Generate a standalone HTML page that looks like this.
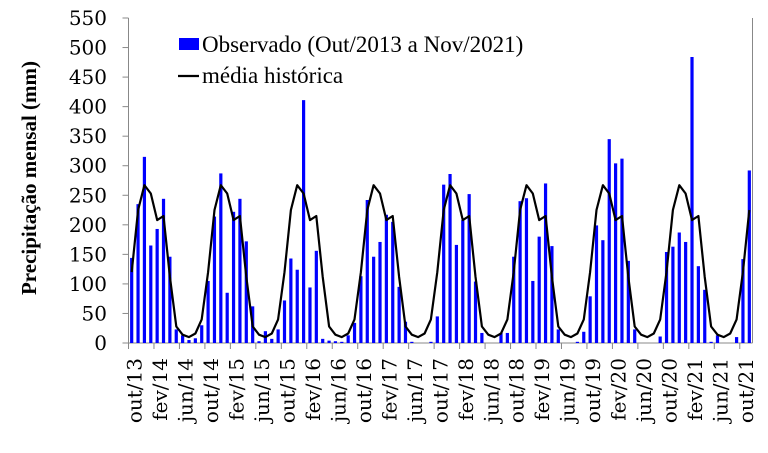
<!DOCTYPE html>
<html><head><meta charset="utf-8"><style>
html,body{margin:0;padding:0;background:#fff;}
svg{display:block;font-family:"Liberation Serif",serif;}
</style></head><body>
<svg id="chart" width="768" height="453" xmlns="http://www.w3.org/2000/svg"></svg>
<script>
const startLabels = ["out","nov","dez","jan","fev","mar","abr","mai","jun","jul","ago","set"];
const observed = [
144,235,315,165,193,244,146,23,13,5,8,30,
105,214,287,85,222,244,172,62,3,20,7,23,
72,143,124,411,94,156,7,4,3,2,13,34,
113,242,146,171,217,205,95,36,2,0,0,2,
45,268,286,166,208,252,104,17,0,0,17,17,
146,240,245,105,180,270,164,23,0,0,2,19,
79,199,174,345,304,312,139,23,0,0,0,11,
154,163,187,171,484,130,90,2,13,0,0,10,
142,292];
const meanHist = [120,225,267,253,208,215,112,28,14,10,16,40];
const yTicks = [0,50,100,150,200,250,300,350,400,450,500,550];
const yearLabels = ["13","14","15","16","17","18","19","20","21"];

const NS="http://www.w3.org/2000/svg";
const svg=document.getElementById('chart');
const L=128.5,R=752.5,T=18,B=343,yMax=550;
const n=observed.length, cw=(R-L)/n;
const xc=i=>L+cw*(i+0.5);
const y=v=>B-(v/yMax)*(B-T);
const tickFont='"DejaVu Serif",serif';
function mk(tag,attrs,parent){const e=document.createElementNS(NS,tag);for(const k in attrs)e.setAttribute(k,attrs[k]);(parent||svg).appendChild(e);return e;}

const ax=mk('line',{x1:L,y1:T,x2:L,y2:B,stroke:'#888','stroke-width':1});


const rb=mk('line',{x1:R,y1:T,x2:R,y2:B,stroke:'#888','stroke-width':1});


const xa=mk('line',{x1:L,y1:B,x2:R,y2:B,stroke:'#888','stroke-width':1});



yTicks.forEach(v=>{
  const tk=mk('line',{x1:L-6,y1:y(v),x2:L,y2:y(v),stroke:'#888'});
  
  
  const t=mk('text',{x:107,y:y(v)+7,'text-anchor':'end','font-size':20,'font-family':tickFont,fill:'#000'});
  t.textContent=v;
  
  
});

observed.forEach((v,i)=>{
  const r=mk('rect',{x:xc(i)-1.6,y:y(v),width:3.2,height:B-y(v),fill:'#0000ff'});
  
  
});

let pts=[];
for(let i=0;i<n;i++){pts.push(xc(i).toFixed(1)+','+y(meanHist[i%12]).toFixed(1));}
const pl=mk('polyline',{points:pts.join(' '),fill:'none',stroke:'#000','stroke-width':2.2,'stroke-linejoin':'round'});



for(let i=0;i<n;i+=4){
  const tx=L+cw*i;
  const tk=mk('line',{x1:tx,y1:B,x2:tx,y2:B+6,stroke:'#888'});
  
  
  const m=startLabels[i%12];
  const yr=yearLabels[Math.floor((i+9)/12)];
  const lx=xc(i)+10;
  const t=mk('text',{x:lx,y:358,'text-anchor':'end','font-size':20,'font-family':tickFont,fill:'#000',transform:'rotate(-90 '+lx+' 358)'});
  t.textContent=m+'/'+yr;
  
  
}

const yt=mk('text',{x:36,y:178,'text-anchor':'middle','font-size':21,'font-weight':'bold',fill:'#000',transform:'rotate(-90 36 178)'});
yt.textContent='Precipitação mensal (mm)';



const lg=mk('g',{});


const ls=mk('rect',{x:179,y:38,width:20,height:12,fill:'#0000ff'},lg);


const lt1=mk('text',{x:202,y:52,'font-size':23,fill:'#000'},lg);
lt1.textContent='Observado (Out/2013 a Nov/2021)';


const ll=mk('line',{x1:178,y1:76,x2:199,y2:76,stroke:'#000','stroke-width':2.2},lg);


const lt2=mk('text',{x:202,y:83,'font-size':23,fill:'#000'},lg);
lt2.textContent='média histórica';


</script>
</body></html>
